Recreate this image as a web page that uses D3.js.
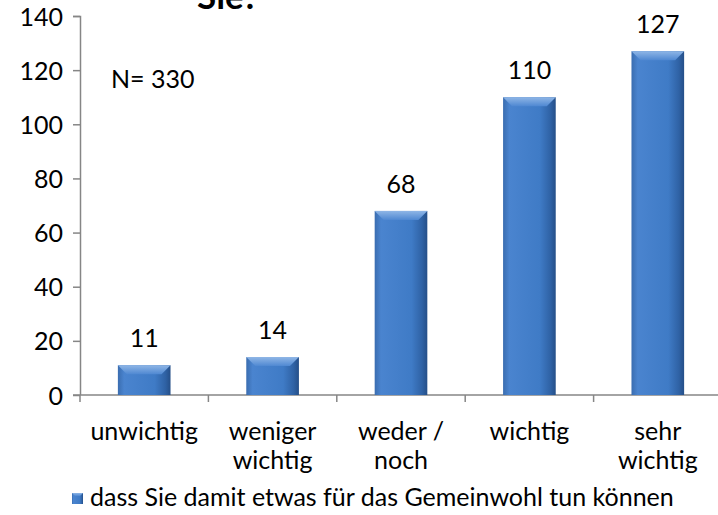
<!DOCTYPE html>
<html>
<head>
<meta charset="utf-8">
<script src="https://cdn.jsdelivr.net/npm/d3@7"></script>
<style>
  body { margin: 0; background: #fff; }
  text { font-family: Lato, "Open Sans", sans-serif; fill: #000; }
</style>
</head>
<body>
<div id="content"></div>
<script>
// chart data
const categories = [["unwichtig"], ["weniger", "wichtig"], ["weder /", "noch"], ["wichtig"], ["sehr", "wichtig"]];
const values = [11, 14, 68, 110, 127];
const yTicks = [0, 20, 40, 60, 80, 100, 120, 140];
const seriesName = "dass Sie damit etwas für das Gemeinwohl tun können";
const titleText = "Sie?";
const noteText = "N= 330";

const W = 718, H = 515;
const margin = {left: 80, top: 16, bottom: 120};
const plotW = 642, plotH = 379;
const fontSize = "25px";

const svg = d3.select("#content")
    .append("svg")
    .attr("width", W)
    .attr("height", H);

const defs = svg.append("defs");

// bar face: horizontal shading
let face = defs.append("linearGradient").attr("id", "face")
    .attr("x1", "0").attr("x2", "1").attr("y1", "0").attr("y2", "0");
face.append("stop").attr("offset", "0").attr("stop-color", "#3a6db0");
face.append("stop").attr("offset", "0.12").attr("stop-color", "#4a84cf");
face.append("stop").attr("offset", "0.7").attr("stop-color", "#3f7bc6");
face.append("stop").attr("offset", "0.9").attr("stop-color", "#2f62a5");
face.append("stop").attr("offset", "1").attr("stop-color", "#254f88");

let topBevel = defs.append("linearGradient").attr("id", "topBevel")
    .attr("x1", "0").attr("x2", "0").attr("y1", "0").attr("y2", "1");
topBevel.append("stop").attr("offset", "0").attr("stop-color", "#8fb6e6");
topBevel.append("stop").attr("offset", "1").attr("stop-color", "#4f88d2");

let x = d3.scaleBand()
    .domain(d3.range(values.length))
    .range([0, plotW])
    .paddingInner(0.59)
    .paddingOuter(0.295);

let y = d3.scaleLinear()
    .domain([0, 140])
    .range([plotH, 0]);

const g = svg.append("g")
    .attr("transform", "translate(" + margin.left + "," + margin.top + ")");

// title (cut off at the top, only last line visible)
svg.append("text")
    .attr("x", 228)
    .attr("y", 9)
    .attr("text-anchor", "middle")
    .style("font-size", "35px")
    .style("font-weight", "bold")
    .text(titleText);

// y axis
let yAxis = d3.axisLeft(y)
    .tickValues(yTicks)
    .tickSize(7)
    .tickPadding(10);

let yg = g.append("g").call(yAxis);
yg.select(".domain").attr("stroke", "#868686").attr("stroke-width", 1.5).attr("d", "M-7,0.5H0.5V" + plotH);
yg.selectAll(".tick line").attr("stroke", "#868686").attr("stroke-width", 1.5);
yg.selectAll(".tick text")
    .style("font-size", fontSize)
    .style("font-family", "Lato, sans-serif")
    .attr("fill", "#000")
    .attr("dy", "0.36em");

// x axis line + ticks between categories
let xg = g.append("g").attr("transform", "translate(0," + plotH + ")");
xg.append("line")
    .attr("x1", -7).attr("x2", plotW)
    .attr("stroke", "#868686").attr("stroke-width", 1.5);
xg.selectAll(".xtick")
    .data(d3.range(values.length + 1))
    .enter().append("line")
    .attr("class", "xtick")
    .attr("x1", i => i * x.step()).attr("x2", i => i * x.step())
    .attr("y1", 0).attr("y2", 7)
    .attr("stroke", "#868686").attr("stroke-width", 1.5);

// category labels
let catLabels = xg.selectAll(".cat")
    .data(categories)
    .enter().append("text")
    .attr("class", "cat")
    .attr("text-anchor", "middle")
    .attr("transform", (d, i) => "translate(" + (x(i) + x.bandwidth() / 2) + ",45)")
    .style("font-size", fontSize);
catLabels.selectAll("tspan")
    .data(d => d)
    .enter().append("tspan")
    .attr("x", 0)
    .attr("dy", (d, i) => i == 0 ? 0 : 29)
    .text(d => d);

// bars with bevel
const bev = 9;
let bars = g.selectAll(".bar")
    .data(values)
    .enter().append("g")
    .attr("class", "bar");

bars.append("rect")
    .attr("x", (d, i) => x(i))
    .attr("y", d => y(d))
    .attr("width", x.bandwidth())
    .attr("height", d => plotH - y(d))
    .attr("fill", "url(#face)");

bars.append("path")
    .attr("d", (d, i) => {
        let x0 = x(i), x1 = x(i) + x.bandwidth(), t = y(d);
        let b = Math.min(bev, (plotH - t) / 2);
        return "M" + x0 + "," + t + "L" + x1 + "," + t + "L" + (x1 - bev) + "," + (t + b)
            + "L" + (x0 + bev) + "," + (t + b) + "Z";
    })
    .attr("fill", "url(#topBevel)");

// value labels
g.selectAll(".val")
    .data(values)
    .enter().append("text")
    .attr("class", "val")
    .attr("x", (d, i) => x(i) + x.bandwidth() / 2)
    .attr("y", d => y(d) - 18)
    .attr("text-anchor", "middle")
    .style("font-size", fontSize)
    .text(d => d);

// N note
svg.append("text")
    .attr("x", 111)
    .attr("y", 88)
    .style("font-size", fontSize)
    .text(noteText);

// legend
let legend = svg.append("g").attr("transform", "translate(72,493)");
legend.append("rect")
    .attr("width", 11).attr("height", 11)
    .attr("fill", "url(#face)");
legend.append("path")
    .attr("d", "M0,0L11,0L8,3L3,3Z")
    .attr("fill", "url(#topBevel)");
legend.append("text")
    .attr("x", 18)
    .attr("y", 13)
    .style("font-size", fontSize)
    .text(seriesName);
</script>
</body>
</html>
